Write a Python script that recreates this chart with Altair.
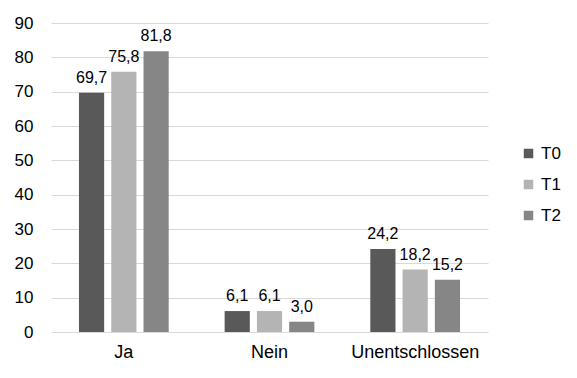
import altair as alt
import pandas as pd

categories = ["Ja", "Nein", "Unentschlossen"]
series = ["T0", "T1", "T2"]
t0 = [69.7, 6.1, 24.2]
t1 = [75.8, 6.1, 18.2]
t2 = [81.8, 3.0, 15.2]
colors = ["#595959", "#b4b4b4", "#868686"]

rows = []
for i, c in enumerate(categories):
    for s, vals in zip(series, [t0, t1, t2]):
        rows.append({"cat": c, "ser": s, "val": vals[i]})
df = pd.DataFrame(rows)

font = "Liberation Sans"

yaxis = alt.Axis(values=list(range(0, 91, 10)), tickCount=10, ticks=False, domain=False,
                 labelFontSize=17, labelColor="#000000", labelPadding=18,
                 labelOverlap=False, gridColor="#d9d9d9", labelFont=font)

base = alt.Chart(df).encode(
    x=alt.X("cat:N", sort=categories, title=None,
            scale=alt.Scale(paddingInner=0.384, paddingOuter=0.192),
            axis=alt.Axis(labelAngle=0, ticks=False, domain=False, labelFontSize=18,
                          labelColor="#000000", labelPadding=11, labelFont=font)),
    xOffset=alt.XOffset("ser:N", sort=series, scale=alt.Scale(paddingInner=0.22)),
    y=alt.Y("val:Q", title=None, scale=alt.Scale(domain=[0, 90], nice=False), axis=yaxis),
)

bars = base.mark_bar().encode(
    color=alt.Color("ser:N", sort=series, scale=alt.Scale(domain=series, range=colors),
                    legend=alt.Legend(title=None, orient="none", legendX=469, legendY=122,
                                      symbolType="square", symbolSize=90,
                                      symbolStrokeWidth=0, labelFontSize=17,
                                      labelFont=font, labelColor="#000000",
                                      rowPadding=13, labelOffset=4)),
)

labels = base.transform_calculate(
    lab="replace(format(datum.val, '.1f'), '.', ',')"
).mark_text(baseline="alphabetic", dy=-10, fontSize=16, font=font, color="#000000").encode(
    text="lab:N",
)

chart = alt.layer(bars, labels).properties(
    width=437, height=309,
    autosize=alt.AutoSizeParams(type="none"),
    padding={"left": 51, "top": 23, "right": 89, "bottom": 46},
).configure(background="white").configure_view(stroke=None)

chart.save("out.html", embed_options={"renderer": "svg", "actions": False})
